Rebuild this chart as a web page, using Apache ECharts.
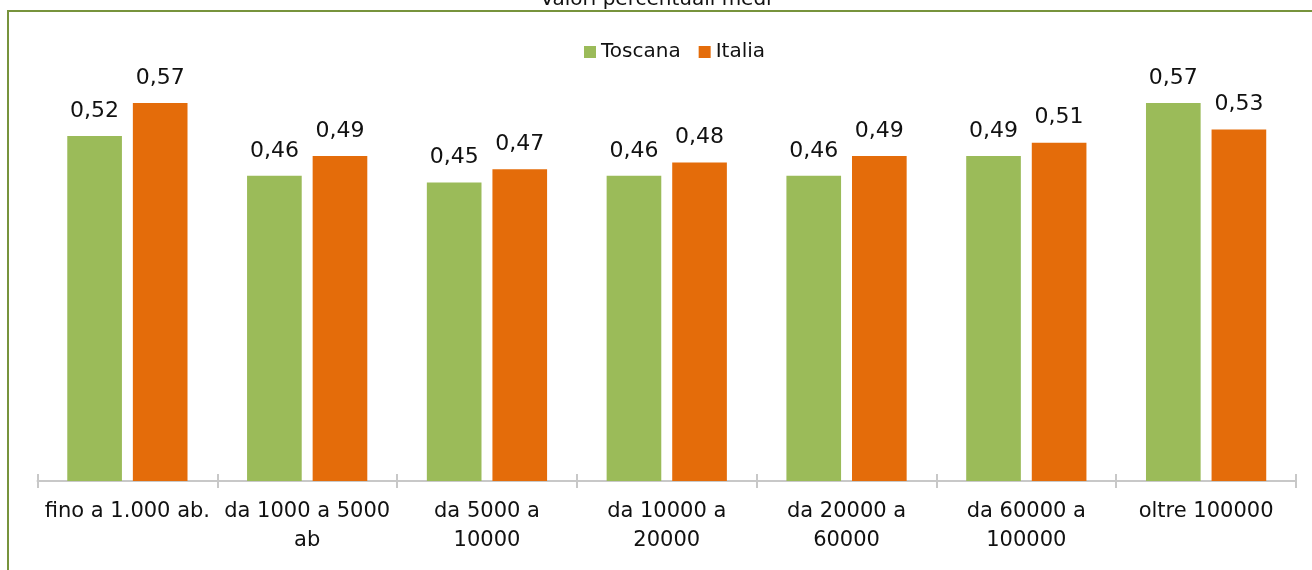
<!DOCTYPE html>
<html>
<head>
<meta charset="utf-8">
<script src="https://cdn.jsdelivr.net/npm/echarts@6/dist/echarts.min.js"></script>
<style>
  html, body { margin: 0; padding: 0; background: #fff; }
  #chart { width: 1312px; height: 570px; }
</style>
</head>
<body>
<div id="chart"></div>
<script>
// Population classes (line breaks as displayed under the axis)
const categories = [
  'fino a 1.000 ab.',
  'da 1000 a 5000\nab',
  'da 5000 a\n10000',
  'da 10000 a\n20000',
  'da 20000 a\n60000',
  'da 60000 a\n100000',
  'oltre 100000'
];
const toscana = [0.52, 0.46, 0.45, 0.46, 0.46, 0.49, 0.57];
const italia  = [0.57, 0.49, 0.47, 0.48, 0.49, 0.51, 0.53];

const FONT = 'DejaVu Sans';
const TEXT = '#111111';
const AXIS = '#C8C8C8';
const chart = echarts.init(document.getElementById('chart'));

const valueLabel = {
  show: true,
  position: 'top',
  distance: 14,
  fontFamily: FONT,
  fontSize: 22,
  color: TEXT,
  formatter: p => p.value.toFixed(2).replace('.', ',')
};

chart.setOption({
  animation: false,
  title: {
    text: 'Valori percentuali medi',
    left: 'center',
    top: -15,
    textStyle: { fontFamily: FONT, fontSize: 20, fontWeight: 'normal', color: TEXT }
  },
  graphic: [{
    type: 'rect',
    shape: { x: 8, y: 11, width: 1330, height: 600 },
    style: { fill: 'none', stroke: '#77933C', lineWidth: 2 },
    z: 0
  }],
  legend: {
    left: 579,
    top: 37,
    itemWidth: 12,
    itemHeight: 12,
    itemGap: 18,
    icon: 'rect',
    textStyle: { fontFamily: FONT, fontSize: 20, color: TEXT },
    data: ['Toscana', 'Italia']
  },
  grid: { left: 37.5, right: 16, top: 83, bottom: 89 },
  xAxis: [{
    type: 'category',
    data: categories,
    axisLine: { show: true, lineStyle: { color: AXIS, width: 2 } },
    axisTick: { show: true, length: 7, lineStyle: { color: AXIS, width: 2 } },
    axisLabel: {
      margin: 16,
      interval: 0,
      fontFamily: FONT,
      fontSize: 21,
      lineHeight: 29,
      color: TEXT
    }
  }, {
    type: 'category',
    data: categories,
    position: 'bottom',
    axisLine: { show: false },
    axisTick: { show: true, inside: true, length: 7, lineStyle: { color: AXIS, width: 2 } },
    axisLabel: { show: false }
  }],
  yAxis: {
    type: 'value',
    min: 0,
    max: 0.6,
    show: false,
    splitLine: { show: false }
  },
  series: [{
    name: 'Toscana',
    type: 'bar',
    data: toscana,
    barWidth: '30.4%',
    barGap: '20%',
    itemStyle: { color: '#9BBB59' },
    label: valueLabel
  }, {
    name: 'Italia',
    type: 'bar',
    data: italia,
    barWidth: '30.4%',
    barGap: '20%',
    itemStyle: { color: '#E46C0A' },
    label: valueLabel
  }]
});
</script>
</body>
</html>
